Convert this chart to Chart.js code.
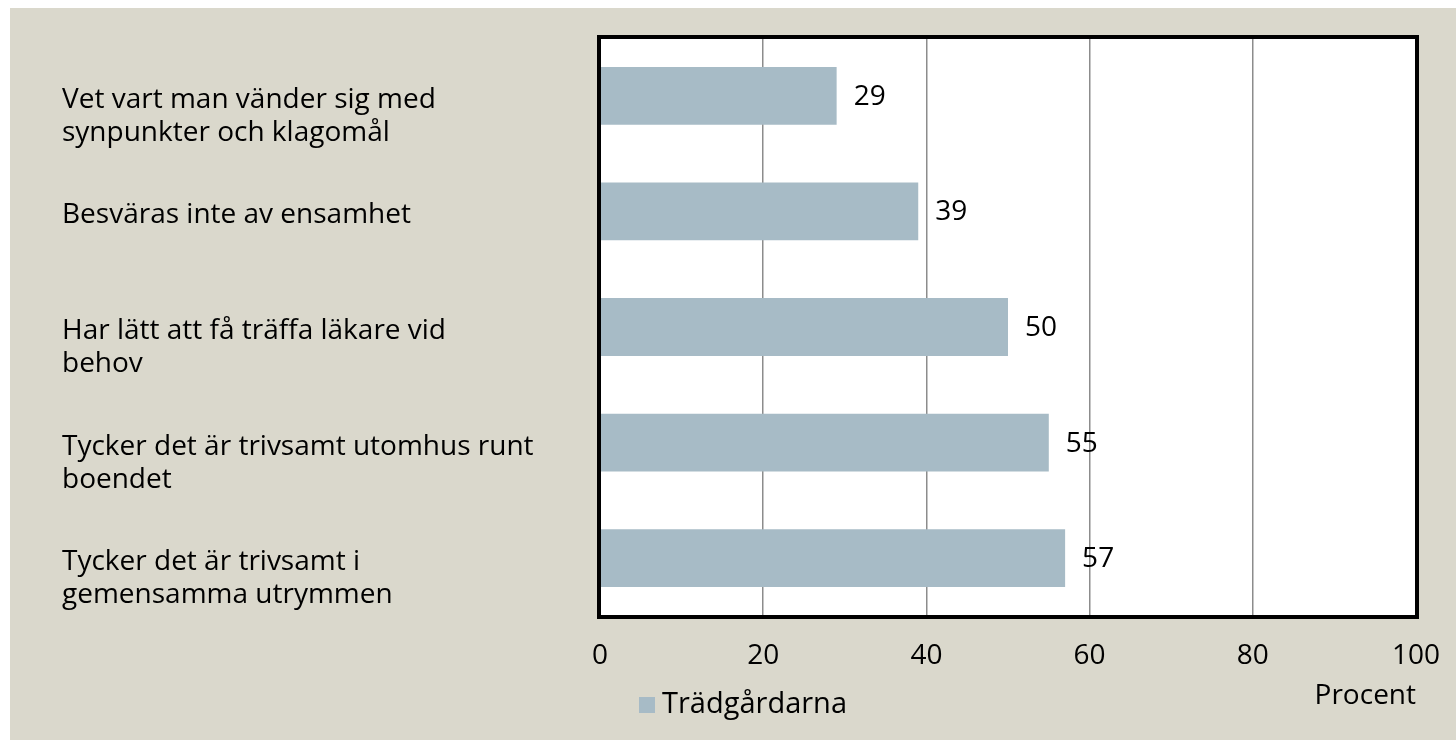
<!DOCTYPE html>
<html>
<head>
<meta charset="utf-8">
<script src="https://cdn.jsdelivr.net/npm/chart.js@4.4.1/dist/chart.umd.min.js"></script>
<style>
  body { margin: 0; background: #fff; }
  #wrap { position: absolute; left: 10px; top: 8px; width: 1446px; height: 732px; background: #dad8cc; }
</style>
</head>
<body>
<div id="wrap"><canvas id="chart-area" width="1446" height="732"></canvas></div>
<script>
var categories = [
  ['Vet vart man vänder sig med', 'synpunkter och klagomål'],
  ['Besväras inte av ensamhet'],
  ['Har lätt att få träffa läkare vid', 'behov'],
  ['Tycker det är trivsamt utomhus runt', 'boendet'],
  ['Tycker det är trivsamt i', 'gemensamma utrymmen']
];
var values = [29, 39, 50, 55, 57];
var seriesName = 'Trädgårdarna';
var xTicks = [0, 20, 40, 60, 80, 100];
var axisTitle = 'Procent';

var FONT = '"Open Sans", Lato, sans-serif';
var FSIZE = 28;
var barColor = '#a7bbc6';

var decor = {
  id: 'decor',
  beforeDraw: function(chart) {
    var a = chart.chartArea, ctx = chart.ctx;
    ctx.save();
    ctx.fillStyle = '#ffffff';
    ctx.fillRect(a.left, a.top, a.right - a.left, a.bottom - a.top);
    ctx.restore();
  },
  afterDraw: function(chart) {
    var a = chart.chartArea, ctx = chart.ctx;
    var y = chart.scales.y, x = chart.scales.x;
    ctx.save();
    // frame
    ctx.strokeStyle = '#000';
    ctx.lineWidth = 4;
    ctx.strokeRect(a.left - 1, a.top - 1, a.right - a.left + 2, a.bottom - a.top + 2);

    ctx.fillStyle = '#000';
    ctx.font = FSIZE + 'px ' + FONT;
    ctx.textBaseline = 'middle';

    // category labels
    ctx.textAlign = 'left';
    categories.forEach(function(lines, i) {
      var cy = y.getPixelForValue(i) + 4;
      lines.forEach(function(t, j) {
        ctx.fillText(t, 52, cy + j * 33);
      });
    });

    // value labels
    values.forEach(function(v, i) {
      ctx.fillText(String(v), x.getPixelForValue(v) + 17, y.getPixelForValue(i) + 1);
    });

    // legend
    var ds = chart.data.datasets[0];
    ctx.fillStyle = ds.backgroundColor;
    ctx.fillRect(a.left + 39, 689, 16, 16);
    ctx.fillStyle = '#000';
    ctx.font = '29px ' + FONT;
    ctx.fillText(ds.label, a.left + 62, 697);
    ctx.restore();
  }
};

var config = {
  type: 'bar',
  data: {
    labels: categories.map(function(c) { return c.join(' '); }),
    datasets: [{
      label: seriesName,
      data: values,
      backgroundColor: barColor,
      categoryPercentage: 1,
      barPercentage: 0.5
    }]
  },
  options: {
    indexAxis: 'y',
    responsive: false,
    animation: false,
    layout: { padding: { left: 0, right: 40, top: 30, bottom: 27 } },
    scales: {
      x: {
        min: 0,
        max: 100,
        afterBuildTicks: function(s) {
          s.ticks = xTicks.map(function(v) { return { value: v }; });
        },
        afterFit: function(s) {
          s.height = 97;
          s.paddingLeft = 0;
          s.paddingRight = 0;
        },
        grid: { color: '#8c8c8c', lineWidth: 1.5, drawTicks: false },
        border: { display: false },
        ticks: { color: '#000', font: { family: FONT, size: FSIZE }, padding: 23, maxRotation: 0 },
        title: {
          display: true,
          text: axisTitle,
          align: 'end',
          color: '#000',
          font: { family: FONT, size: FSIZE },
          padding: { top: 9, bottom: 0 }
        }
      },
      y: {
        grid: { display: false, drawTicks: false },
        border: { display: false },
        ticks: { display: false },
        afterFit: function(s) { s.width = 590; }
      }
    },
    plugins: {
      legend: { display: false },
      tooltip: { enabled: false }
    }
  },
  plugins: [decor]
};

window.onload = function() {
  var ctx = document.getElementById('chart-area').getContext('2d');
  window.myBar = new Chart(ctx, config);
};
</script>
</body>
</html>
